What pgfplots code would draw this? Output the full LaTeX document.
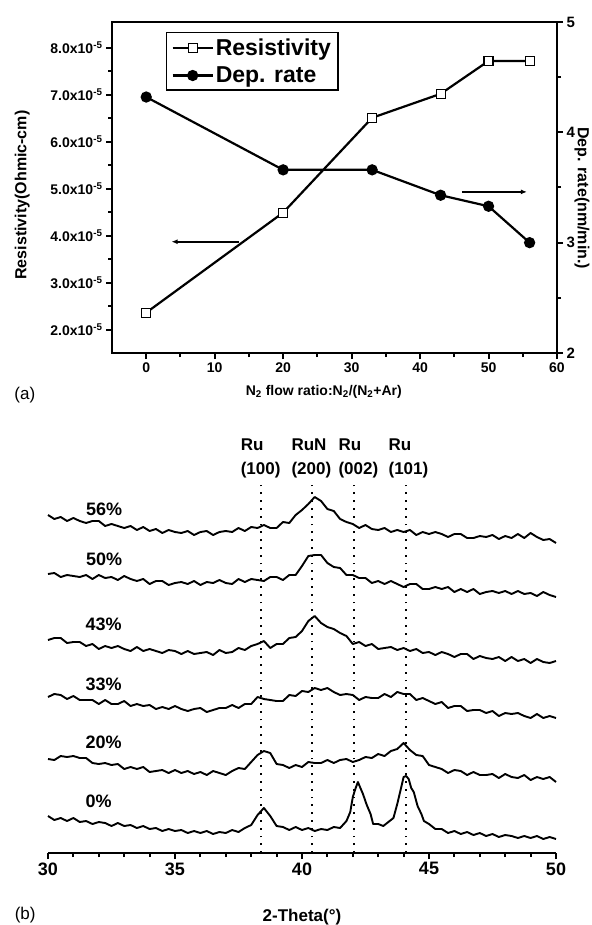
\documentclass[border=0pt]{standalone}
\usepackage{pgfplots}
\pgfplotsset{compat=1.18}
\usepackage{pgfplotstable}
\usepackage{fontspec}
\setmainfont{Liberation Sans}
\usetikzlibrary{arrows.meta}

\newcommand{\fs}[1]{\fontsize{#1}{#1}\selectfont}

% XRD patterns, heights in pt above the 2-theta axis (stacked offsets)
\pgfplotstableread{
x     s20  s33  s43  s50  s56
30.00 94   156  213  279  338
30.25 93   159  215  280  334
30.50 97   158  215  276  336
30.75 96   154  210  278  332
31.00 97   157  211  277  335
31.25 95   153  211  276  332
31.50 95   153  207  278  330
31.75 90   153  209  274  332
32.00 89   149  204  278  332
32.25 90   153  207  275  327
32.50 88   149  205  276  329
32.75 89   149  207  273  327
33.00 84   152  204  277  325
33.25 86   147  202  274  327
33.50 84   149  206  272  323
33.75 86   147  202  274  326
34.00 81   148  204  269  322
34.25 82   144  202  272  324
34.50 83   146  200  272  320
34.75 80   144  203  268  323
35.00 83   147  202  270  321
35.25 80   144  199  271  320
35.50 82   142  202  269  322
35.75 79   144  199  272  318
36.00 81   145  200  268  321
36.25 78   141  201  271  322
36.50 82   143  198  270  318
36.75 80   145  203  273  321
37.00 78   145  200  270  322
37.25 82   148  201  269  321
37.50 85   145  205  274  325
37.75 84   149  203  271  322
38.00 91   149  207  274  326
38.25 98   156  209  273  325
38.50 102  154  212  272  328
38.75 100  153  205  276  325
39.00 89   152  209  276  325
39.25 88   152  209  273  331
39.50 85   158  215  278  330
39.75 88   157  216  278  338
40.00 86   162  222  287  343
40.25 91   161  232  297  349
40.50 90   165  237  298  356
40.75 90   163  230  298  352
41.00 93   165  226  290  344
41.25 90   161  224  286  342
41.50 93   158  220  285  334
41.75 94   159  217  278  331
42.00 91   158  209  278  329
42.25 93   153  211  275  325
42.50 96   156  207  275  328
42.75 95   155  209  270  324
43.00 99   155  204  272  323
43.25 97   159  205  269  325
43.50 102  156  206  272  321
43.75 104  161  203  269  323
44.00 110  159  205  266  321
44.25 103  159  202  269  323
44.50 98   153  204  269  318
44.75 97   155  200  264  321
45.00 88   152  201  264  319
45.25 86   149  198  266  321
45.50 84   151  201  264  319
45.75 80   145  199  266  316
46.00 83   147  196  261  319
46.25 82   147  199  264  319
46.50 78   142  199  261  315
46.75 81   143  194  264  315
47.00 78   143  197  259  317
47.25 78   140  195  261  316
47.50 79   142  194  262  318
47.75 75   137  196  260  314
48.00 79   140  192  262  317
48.25 76   139  196  259  315
48.50 75   140  192  262  319
48.75 78   137  194  259  315
49.00 73   135  190  260  320
49.25 76   139  194  257  316
49.50 74   135  191  261  313
49.75 76   137  190  258  314
50.00 71   135  192  256  310
}\xrd

\begin{document}
\begin{tikzpicture}
\pgfplotsset{
  every axis/.append style={
    scale only axis,
    /pgf/number format/assume math mode=true,
    tick align=outside,
    major tick length=6pt, minor tick length=4pt,
    tick style={line width=2pt, black},
    axis line style={line width=2.5pt, -},
  },
  xrdline/.style={black, line width=1.9pt, line join=round},
}

% ---------- (a) resistivity (left axis) ----------
\begin{axis}[
  at={(112pt,-353pt)},
  width=445pt, height=331pt,
  xmin=-5, xmax=60, ymin=1.5, ymax=8.55,
  xtick={0,10,...,60}, minor x tick num=1,
  ytick={2,...,8}, minor y tick num=1,
  yticklabels={2.0x10\textsuperscript{-5},3.0x10\textsuperscript{-5},4.0x10\textsuperscript{-5},5.0x10\textsuperscript{-5},6.0x10\textsuperscript{-5},7.0x10\textsuperscript{-5},8.0x10\textsuperscript{-5}},
  tick pos=left,
  tick label style={font=\bfseries\fs{14}},
  xlabel={N\textsubscript{2} flow ratio:N\textsubscript{2}/(N\textsubscript{2}+Ar)},
  ylabel={Resistivity(Ohmic-cm)},
  every axis x label/.style={at={(axis description cs:0.476,-0.118)}, anchor=center, font=\bfseries\fs{14}},
  every axis y label/.style={at={(axis description cs:-0.202,0.477)}, rotate=90, anchor=center, font=\bfseries\fs{16}},
  clip=false,
]
\addplot[black, line width=2.2pt, mark=square*, mark size=4.5pt,
  mark options={fill=white, line width=1.2pt}]
  coordinates {(0,2.36) (20,4.49) (33,6.51) (43,7.02) (50,7.72) (56,7.72)};
\draw[line width=1.8pt, -{Latex[length=6pt,width=5pt]}] (axis cs:13.6,3.87) -- (axis cs:3.7,3.87);
\node[font=\fs{17}] at (axis description cs:-0.196,-0.127) {(a)};
\end{axis}

% ---------- (a) deposition rate (right axis) ----------
\begin{axis}[
  at={(112pt,-353pt)},
  width=445pt, height=331pt,
  xmin=-5, xmax=60, ymin=2, ymax=5,
  axis x line=none, axis y line*=right,
  ytick={2,3,4,5}, minor y tick num=1,
  tick label style={font=\bfseries\fs{15}},
  ylabel={Dep. rate(nm/min.)},
  every axis y label/.style={at={(axis description cs:1.056,0.468)}, rotate=-90, anchor=center, font=\bfseries\fs{16}},
  legend style={at={(axis description cs:0.121,0.970)}, anchor=north west,
    draw=black, line width=1.5pt, font=\bfseries\fs{23}, row sep=6pt,
    inner xsep=5pt, inner ysep=4pt},
  legend cell align=left,
  legend image code/.code={\draw[mark repeat=2,mark phase=2] plot coordinates {(0pt,0pt) (20pt,0pt) (40pt,0pt)};},
  clip=false,
]
\addlegendimage{black, line width=2.2pt, mark=square*, mark size=4.5pt, mark options={fill=white, line width=1.2pt}}
\addlegendentry{Resistivity}
\addplot[black, line width=2.2pt, mark=*, mark size=4.5pt]
  coordinates {(0,4.32) (20,3.66) (33,3.66) (43,3.43) (50,3.33) (56,3.00)};
\addlegendentry{Dep. rate}
\draw[line width=1.8pt, -{Latex[length=6pt,width=5pt]}] (axis cs:46.1,3.46) -- (axis cs:55.6,3.46);
\end{axis}

% ---------- (b) XRD ----------
\begin{axis}[
  at={(48pt,-853pt)},
  width=508pt, height=413pt,
  xmin=30, xmax=50, ymin=0, ymax=413,
  axis y line=none, axis x line*=bottom,
  ytick=\empty,
  xtick={30,35,...,50}, minor x tick num=4,
  tick label style={font=\bfseries\fs{18}},
  xlabel={2-Theta(°)},
  every axis x label/.style={at={(axis description cs:0.5,-0.155)}, anchor=center, font=\bfseries\fs{17}},
  clip=false,
]
\foreach \p in {38.4,40.4,42.05,44.1}{
  \edef\tmp{\noexpand\addplot[black, line width=1.8pt, dash pattern=on 1.8pt off 6pt] coordinates {(\p,0) (\p,368)};}
  \tmp
}
\addplot[xrdline] table[x=x, y=s56] {\xrd};
\addplot[xrdline] table[x=x, y=s50] {\xrd};
\addplot[xrdline] table[x=x, y=s43] {\xrd};
\addplot[xrdline] table[x=x, y=s33] {\xrd};
\addplot[xrdline] table[x=x, y=s20] {\xrd};
\addplot[xrdline] coordinates {
(30,37) (30.25,33) (30.5,35) (30.75,32) (31,35) (31.25,31) (31.5,32) (31.75,29)
(32,31) (32.25,30) (32.5,27) (32.75,30) (33,27) (33.25,28) (33.5,25) (33.75,27)
(34,24) (34.25,25) (34.5,22) (34.75,24) (35,22) (35.25,23) (35.5,20) (35.75,22)
(36,20) (36.25,22) (36.5,19) (36.75,21) (37,20) (37.25,23) (37.5,21) (37.75,25)
(38,28) (38.25,38) (38.5,45) (38.75,37) (39,27) (39.25,26) (39.5,23) (39.75,26)
(40,23) (40.25,25) (40.5,22) (40.75,24) (41,23) (41.25,26) (41.5,25) (41.75,32)
(41.9,41) (42.0,56) (42.1,64) (42.2,71) (42.3,65) (42.4,59) (42.55,48) (42.7,39)
(42.8,29) (43.0,29) (43.2,27) (43.4,31) (43.6,35) (43.75,49) (43.9,65) (44.0,76)
(44.1,77) (44.2,74) (44.3,65) (44.4,61) (44.55,47) (44.7,39) (44.8,32) (45.0,29)
(45.25,24) (45.5,24) (45.75,20) (46,22) (46.25,19) (46.5,21) (46.75,18) (47,20)
(47.25,17) (47.5,19) (47.75,16) (48,18) (48.25,17) (48.5,15) (48.75,17) (49,15)
(49.25,17) (49.5,14) (49.75,16) (50,14)};
% sample labels
\node[anchor=base west, font=\bfseries\fs{18}] at (axis cs:31.36,338) {56\%};
\node[anchor=base west, font=\bfseries\fs{18}] at (axis cs:31.36,288) {50\%};
\node[anchor=base west, font=\bfseries\fs{18}] at (axis cs:31.34,223) {43\%};
\node[anchor=base west, font=\bfseries\fs{18}] at (axis cs:31.34,163) {33\%};
\node[anchor=base west, font=\bfseries\fs{18}] at (axis cs:31.34,105) {20\%};
\node[anchor=base west, font=\bfseries\fs{18}] at (axis cs:31.34,46) {0\%};
% peak labels
\node[anchor=base west, font=\bfseries\fs{17}] at (axis cs:37.45,403) {Ru};
\node[anchor=base west, font=\bfseries\fs{17}] at (axis cs:37.45,379) {(100)};
\node[anchor=base west, font=\bfseries\fs{17}] at (axis cs:39.45,403) {RuN};
\node[anchor=base west, font=\bfseries\fs{17}] at (axis cs:39.45,379) {(200)};
\node[anchor=base west, font=\bfseries\fs{17}] at (axis cs:41.30,403) {Ru};
\node[anchor=base west, font=\bfseries\fs{17}] at (axis cs:41.30,379) {(002)};
\node[anchor=base west, font=\bfseries\fs{17}] at (axis cs:43.27,403) {Ru};
\node[anchor=base west, font=\bfseries\fs{17}] at (axis cs:43.27,379) {(101)};
\node[font=\fs{17}] at (axis description cs:-0.045,-0.150) {(b)};
\end{axis}

\pgfresetboundingbox
\useasboundingbox (0pt,0pt) rectangle (591pt,-925pt);
\end{tikzpicture}
\end{document}
